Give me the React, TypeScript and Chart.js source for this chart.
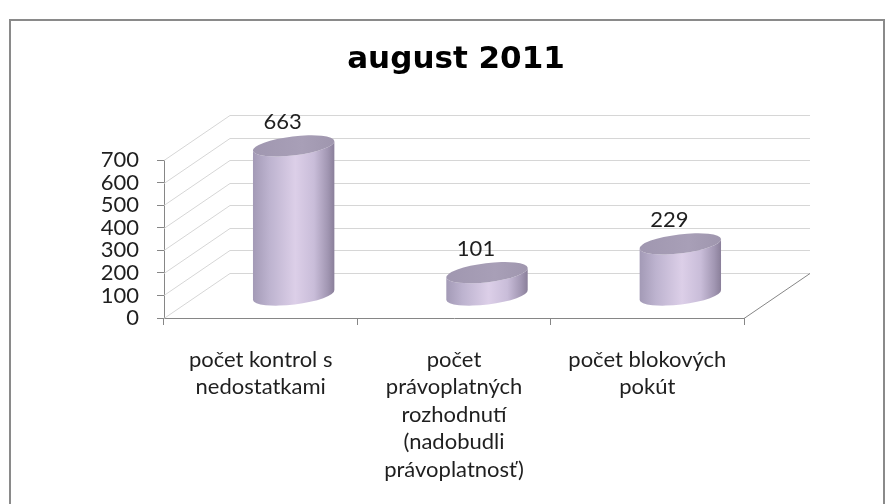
import React, { useEffect, useRef } from 'react';
import { Chart, registerables } from 'chart.js';

Chart.register(...registerables);

// ---- data ----
const TITLE = 'august 2011';
const categories: string[][] = [
  ['počet kontrol s', 'nedostatkami'],
  ['počet', 'právoplatných', 'rozhodnutí', '(nadobudli', 'právoplatnosť)'],
  ['počet blokových', 'pokút'],
];
const values: number[] = [663, 101, 229];
const yMin = 0;
const yMax = 700;
const yStep = 100;

// ---- style constants ----
const W = 893;
const H = 504;
const DEPTH_X = 66;
const DEPTH_Y = 45;
const FONT = 'Lato';
const TEXT = '#1f1f1f';
const AXIS = '#868686';
const GRID = '#d6d6d6';

const framePlugin = {
  id: 'frame3d',
  beforeDraw(chart: any) {
    const { ctx } = chart;
    ctx.save();
    ctx.strokeStyle = '#8a8a8a';
    ctx.lineWidth = 2;
    ctx.strokeRect(10, 20, 874, 520);
    ctx.fillStyle = '#000000';
    ctx.font = 'bold 31px "DejaVu Sans"';
    ctx.textAlign = 'center';
    ctx.textBaseline = 'alphabetic';
    ctx.fillText(TITLE, 456, 68);
    ctx.restore();
  },
  beforeDatasetsDraw(chart: any) {
    const { ctx, chartArea: a } = chart;
    const y = chart.scales.y;
    ctx.save();
    ctx.lineWidth = 1;
    ctx.strokeStyle = GRID;
    for (let v = yMin; v <= yMax; v += yStep) {
      const py = Math.round(y.getPixelForValue(v)) + 0.5;
      ctx.beginPath();
      ctx.moveTo(a.left, py);
      ctx.lineTo(a.left + DEPTH_X, py - DEPTH_Y);
      ctx.lineTo(a.right + DEPTH_X, py - DEPTH_Y);
      ctx.stroke();
    }
    ctx.strokeStyle = AXIS;
    ctx.beginPath();
    ctx.moveTo(a.right, Math.round(a.bottom) + 0.5);
    ctx.lineTo(a.right + DEPTH_X, Math.round(a.bottom) + 0.5 - DEPTH_Y);
    ctx.stroke();
    ctx.restore();
  },
  afterDatasetsDraw(chart: any) {
    const { ctx } = chart;
    const meta = chart.getDatasetMeta(0);
    ctx.save();
    meta.data.forEach((bar: any, i: number) => {
      const p = bar.getProps(['x', 'y', 'base', 'width'], true);
      const cx = p.x + DEPTH_X / 2;
      const yt = p.y - DEPTH_Y / 2;
      const yb = p.base - DEPTH_Y / 2;
      const rx = p.width / 2;
      const ry = 9.5;
      const rot = -0.12;
      const c = Math.cos(rot);
      const s = Math.sin(rot);
      const lx = cx - rx * c;
      const rxx = cx + rx * c;

      const g = ctx.createLinearGradient(lx, 0, rxx, 0);
      g.addColorStop(0, '#a39ab6');
      g.addColorStop(0.2, '#bdb3cf');
      g.addColorStop(0.52, '#dccfe8');
      g.addColorStop(0.75, '#c9bdd9');
      g.addColorStop(0.92, '#a196b2');
      g.addColorStop(1, '#8a7f9a');

      ctx.beginPath();
      ctx.moveTo(lx, yt - rx * s);
      ctx.lineTo(lx, yb - rx * s);
      ctx.ellipse(cx, yb, rx, ry, rot, Math.PI, 0, true);
      ctx.lineTo(rxx, yt + rx * s);
      ctx.ellipse(cx, yt, rx, ry, rot, 0, Math.PI, false);
      ctx.closePath();
      ctx.fillStyle = g;
      ctx.fill();

      const tg = ctx.createLinearGradient(lx, 0, rxx, 0);
      tg.addColorStop(0, '#a097b0');
      tg.addColorStop(0.6, '#a89fb7');
      tg.addColorStop(1, '#9f96ae');
      ctx.beginPath();
      ctx.ellipse(cx, yt, rx, ry, rot, 0, Math.PI * 2);
      ctx.fillStyle = tg;
      ctx.fill();

      ctx.fillStyle = TEXT;
      ctx.font = `22px ${FONT}`;
      ctx.textAlign = 'center';
      ctx.textBaseline = 'alphabetic';
      ctx.fillText(String(values[i]), p.x + 22, yt - 16.5);
    });
    ctx.restore();
  },
};

export default function App() {
  const ref = useRef<HTMLCanvasElement | null>(null);

  useEffect(() => {
    document.body.style.margin = '0';
    const canvas = ref.current;
    if (!canvas) return;
    const chart = new Chart(canvas, {
      type: 'bar',
      data: {
        labels: categories,
        datasets: [
          {
            data: values,
            backgroundColor: 'rgba(0,0,0,0)',
            borderWidth: 0,
            barPercentage: 0.424,
            categoryPercentage: 1,
          },
        ],
      },
      options: {
        responsive: false,
        animation: false,
        devicePixelRatio: 1,
        layout: { padding: { top: 160, right: 149, left: 0, bottom: 0 } },
        plugins: {
          legend: { display: false },
          title: { display: false },
          tooltip: { enabled: false },
        },
        scales: {
          x: {
            afterFit: (s: any) => {
              s.height = 186;
            },
            grid: {
              offset: true,
              drawOnChartArea: false,
              drawTicks: true,
              tickLength: 7,
              color: AXIS,
            },
            border: { display: true, color: AXIS, width: 1 },
            ticks: {
              autoSkip: false,
              maxRotation: 0,
              minRotation: 0,
              padding: 21,
              color: TEXT,
              font: { family: FONT, size: 22, lineHeight: 1.25 },
            },
          },
          y: {
            min: yMin,
            max: yMax,
            afterFit: (s: any) => {
              s.width = 164;
            },
            grid: {
              drawOnChartArea: false,
              drawTicks: true,
              tickLength: 7,
              color: AXIS,
            },
            border: { display: true, color: AXIS, width: 1 },
            ticks: {
              stepSize: yStep,
              autoSkip: false,
              padding: 18,
              color: TEXT,
              font: { family: FONT, size: 22, lineHeight: 1 },
            },
          },
        },
      },
      plugins: [framePlugin],
    });
    return () => chart.destroy();
  }, []);

  return (
    <div style={{ width: W, height: H }}>
      <canvas ref={ref} width={W} height={H} style={{ display: 'block' }} />
    </div>
  );
}
